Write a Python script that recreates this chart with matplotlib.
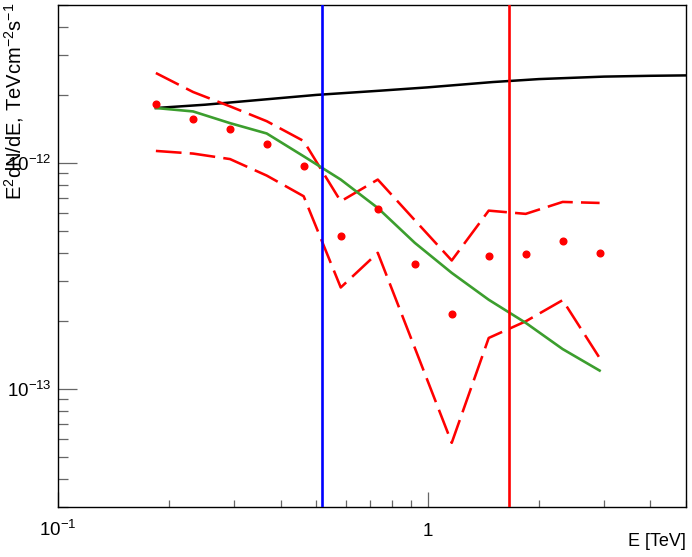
import math
import matplotlib
matplotlib.use('Agg')
import matplotlib.pyplot as plt
from matplotlib.ticker import FixedLocator, NullFormatter, FuncFormatter

plt.rcParams['font.family'] = ['Liberation Sans', 'DejaVu Sans']
plt.rcParams['mathtext.fontset'] = 'custom'
plt.rcParams['mathtext.rm'] = 'Liberation Sans'
plt.rcParams['mathtext.it'] = 'Liberation Sans:italic'
plt.rcParams['mathtext.bf'] = 'Liberation Sans:bold'

# ---- data (TeV, TeV cm^-2 s^-1) ----
energy = [0.184, 0.232, 0.292, 0.367, 0.462, 0.582, 0.733, 0.923,
          1.162, 1.463, 1.842, 2.319, 2.919]
flux = [1.82e-12, 1.57e-12, 1.42e-12, 1.21e-12, 9.70e-13, 4.76e-13, 6.26e-13,
        3.57e-13, 2.14e-13, 3.89e-13, 3.96e-13, 4.53e-13, 4.00e-13]
flux_upper = [2.50e-12, 2.06e-12, 1.78e-12, 1.53e-12, 1.25e-12, 6.76e-13, 8.44e-13,
              5.58e-13, 3.70e-13, 6.15e-13, 5.95e-13, 6.72e-13, 6.65e-13]
flux_lower = [1.13e-12, 1.10e-12, 1.04e-12, 8.79e-13, 7.12e-13, 2.81e-13, 4.00e-13,
              1.52e-13, 5.77e-14, 1.68e-13, 1.99e-13, 2.47e-13, 1.37e-13]
fit_flux = [1.75e-12, 1.69e-12, 1.50e-12, 1.35e-12, 1.07e-12, 8.44e-13, 6.32e-13,
            4.43e-13, 3.26e-13, 2.48e-13, 1.96e-13, 1.50e-13, 1.205e-13]
model_energy = [0.184, 0.25, 0.35, 0.5, 0.75, 1.0, 1.5, 2.0, 3.0, 4.0, 5.0]
model_flux = [1.75e-12, 1.81e-12, 1.90e-12, 2.00e-12, 2.09e-12, 2.16e-12, 2.28e-12,
              2.35e-12, 2.41e-12, 2.43e-12, 2.44e-12]
e_blue = 0.517
e_red = 1.656

xlim = (0.1, 5.0)
ylim = (3.0e-14, 5.0e-12)

fig = plt.figure(figsize=(6.92, 5.57), dpi=100)
ax = fig.add_axes([58/692, 1-507/557, (686-58)/692, (507-5)/557])
ax.set_xscale('log')
ax.set_yscale('log')
ax.set_xlim(*xlim)
ax.set_ylim(*ylim)

ax.plot(model_energy, model_flux, color='black', lw=1.8, zorder=3)
ax.plot(energy, fit_flux, color='#3c9e2e', lw=1.9, zorder=4)
dash = (0, (10, 3.2))
ax.plot(energy, flux_upper, color='#ff0000', lw=1.85, linestyle=dash, zorder=3)
ax.plot(energy, flux_lower, color='#ff0000', lw=1.85, linestyle=dash, zorder=3)
ax.plot(energy, flux, linestyle='none', marker='o', markersize=4.8,
        color='#ff0000', zorder=5)
ax.axvline(e_blue, color='#0000ff', lw=1.9, zorder=6)
ax.axvline(e_red, color='#ff0000', lw=1.9, zorder=6)

for s in ax.spines.values():
    s.set_linewidth(1.0)
    s.set_color('black')

def xfmt(v, p):
    e = round(math.log10(v))
    if e == 0:
        return '1'
    return r'$10^{%d}$' % e

def yfmt(v, p):
    return r'$10^{%d}$' % round(math.log10(v))

ax.xaxis.set_major_locator(FixedLocator([0.1, 1.0]))
ax.xaxis.set_minor_locator(FixedLocator([0.2, 0.3, 0.4, 0.5, 0.6, 0.7, 0.8, 0.9,
                                         2, 3, 4, 5]))
ax.xaxis.set_major_formatter(FuncFormatter(xfmt))
ax.xaxis.set_minor_formatter(NullFormatter())
ax.yaxis.set_major_locator(FixedLocator([1e-13, 1e-12]))
ax.yaxis.set_minor_locator(FixedLocator([k*1e-14 for k in range(3, 10)] +
                                        [k*1e-13 for k in range(2, 10)] +
                                        [k*1e-12 for k in range(2, 6)]))
ax.yaxis.set_major_formatter(FuncFormatter(yfmt))
ax.yaxis.set_minor_formatter(NullFormatter())

ax.tick_params(axis='both', which='both', direction='in', top=False, right=False,
               color='0.4', width=0.9, labelsize=13.5)
ax.tick_params(axis='x', which='major', length=10.8, pad=21)
ax.tick_params(axis='x', which='minor', length=5)
ax.tick_params(axis='y', which='major', length=13.7, pad=4.3)
ax.tick_params(axis='y', which='minor', length=7.2)
for lab in ax.get_xticklabels():
    lab.set_verticalalignment('baseline')

fig.text(686/692, 1-546/557, 'E [TeV]', ha='right', va='baseline', fontsize=13)
fig.text(14/692, 1-3/557, r'E$^{2}$dN/dE, TeVcm$^{-2}$s$^{-1}$', rotation=90,
         ha='center', va='top', fontsize=14.5)

fig.savefig('out.png', dpi=100)
